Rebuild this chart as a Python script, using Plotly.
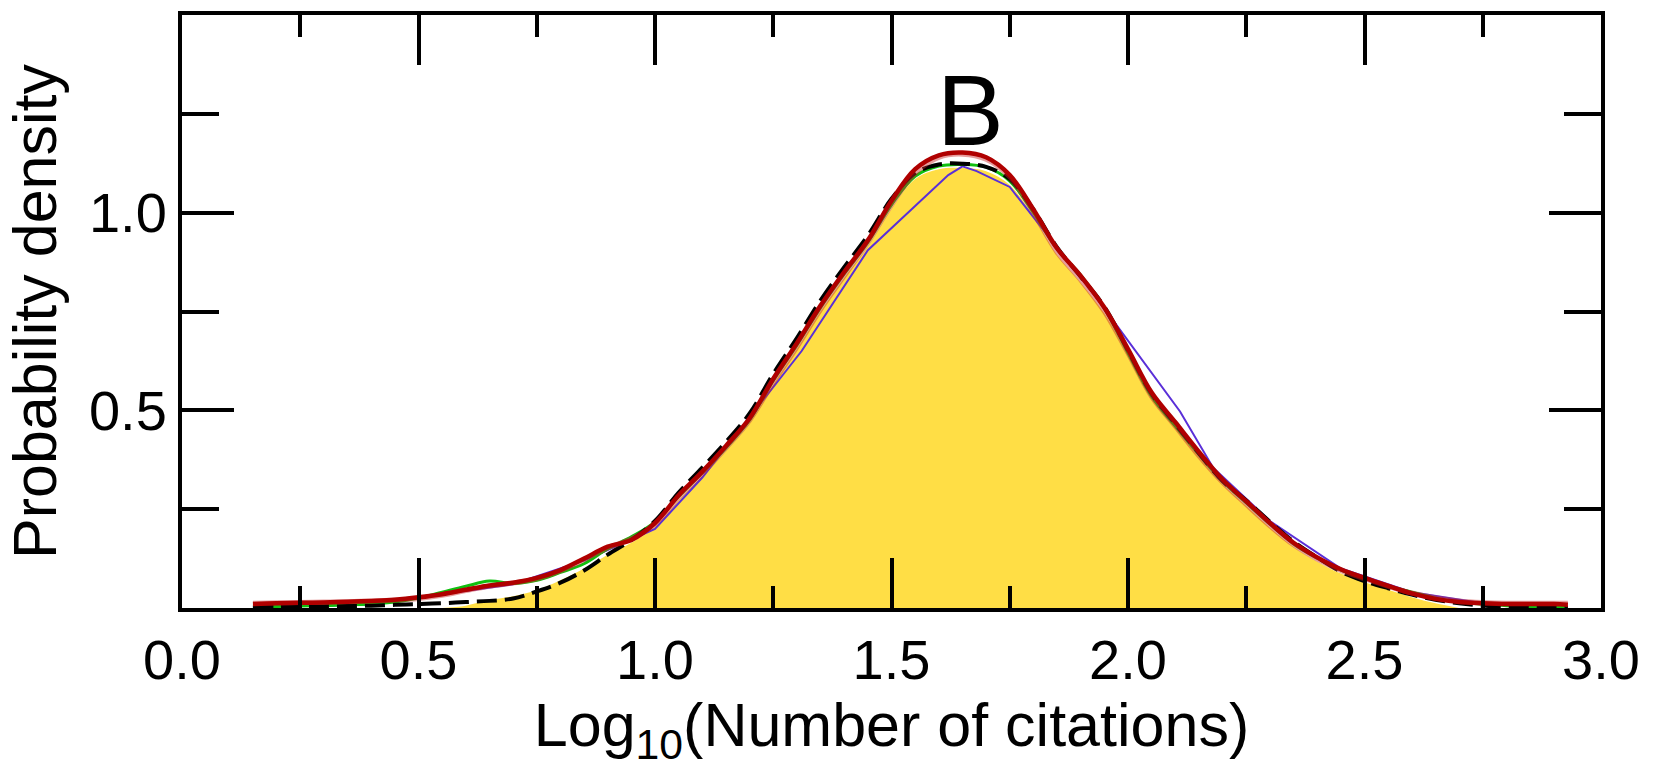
import plotly.graph_objects as go

# Log10 citation grid shared by the smooth density estimates
x_grid = [0.15, 0.20, 0.25, 0.30, 0.35, 0.40, 0.45, 0.50, 0.55,
          0.60, 0.65, 0.70, 0.75, 0.80, 0.85, 0.90, 0.95, 1.00, 1.05,
          1.10, 1.15, 1.20, 1.25, 1.30, 1.35, 1.40, 1.45, 1.50, 1.55,
          1.60, 1.65, 1.70, 1.75, 1.80, 1.85, 1.90, 1.95, 2.00, 2.05,
          2.10, 2.15, 2.20, 2.25, 2.30, 2.35, 2.40, 2.45, 2.50, 2.55,
          2.60, 2.65, 2.70, 2.75, 2.80, 2.85, 2.90, 2.93]

red_density = [0.010, 0.012, 0.013, 0.014, 0.016, 0.018, 0.021, 0.027, 0.035,
               0.046, 0.057, 0.064, 0.076, 0.096, 0.125, 0.155, 0.172, 0.215, 0.285,
               0.345, 0.410, 0.480, 0.580, 0.670, 0.765, 0.850, 0.930, 1.030, 1.110,
               1.145, 1.152, 1.140, 1.095, 1.008, 0.910, 0.840, 0.760, 0.655, 0.545,
               0.470, 0.395, 0.325, 0.270, 0.215, 0.165, 0.128, 0.098, 0.076, 0.056,
               0.037, 0.023, 0.015, 0.012, 0.010, 0.010, 0.010, 0.008]

faded_density = [0.012, 0.013, 0.014, 0.015, 0.016, 0.018, 0.020, 0.024, 0.032,
                 0.044, 0.055, 0.063, 0.074, 0.094, 0.122, 0.152, 0.175, 0.212, 0.280,
                 0.340, 0.405, 0.475, 0.570, 0.660, 0.755, 0.840, 0.925, 1.020, 1.100,
                 1.140, 1.148, 1.135, 1.090, 1.000, 0.900, 0.830, 0.750, 0.645, 0.535,
                 0.460, 0.385, 0.318, 0.262, 0.208, 0.160, 0.124, 0.095, 0.074, 0.055,
                 0.038, 0.026, 0.018, 0.014, 0.012, 0.012, 0.012, 0.012]

black_density = [0.003, 0.003, 0.004, 0.004, 0.005, 0.006, 0.008, 0.010, 0.012,
                 0.015, 0.018, 0.024, 0.042, 0.064, 0.095, 0.135, 0.172, 0.220, 0.292,
                 0.355, 0.420, 0.492, 0.592, 0.683, 0.778, 0.862, 0.942, 1.035, 1.100,
                 1.122, 1.124, 1.116, 1.085, 1.008, 0.912, 0.838, 0.762, 0.652, 0.542,
                 0.466, 0.391, 0.321, 0.272, 0.218, 0.168, 0.128, 0.092, 0.068, 0.050,
                 0.034, 0.021, 0.012, 0.006, 0.003, 0.002, 0.001, 0.001]

green_density = [0.003, 0.004, 0.005, 0.006, 0.008, 0.010, 0.015, 0.025, 0.040,
                 0.055, 0.068, 0.062, 0.070, 0.090, 0.112, 0.150, 0.180, 0.218, 0.282,
                 0.342, 0.405, 0.475, 0.575, 0.665, 0.760, 0.845, 0.925, 1.020, 1.092,
                 1.118, 1.122, 1.115, 1.080, 1.000, 0.908, 0.842, 0.758, 0.645, 0.535,
                 0.460, 0.388, 0.320, 0.266, 0.212, 0.162, 0.126, 0.096, 0.075, 0.055,
                 0.040, 0.025, 0.015, 0.010, 0.006, 0.004, 0.003, 0.002]

# Coarser estimate drawn with straight segments
blue_x = [0.15, 0.40, 0.55, 0.70, 0.85, 1.00, 1.10, 1.31, 1.45, 1.62,
          1.65, 1.68, 1.75, 1.93, 2.11, 2.18, 2.30, 2.45, 2.60, 2.75, 2.92]
blue_density = [0.003, 0.008, 0.035, 0.060, 0.120, 0.200, 0.330, 0.650, 0.905, 1.095,
                1.117, 1.105, 1.065, 0.790, 0.497, 0.355, 0.220, 0.100, 0.040, 0.012, 0.003]

# Shaded reference distribution
fill_x = [0.55, 0.60, 0.65, 0.70, 0.75, 0.80, 0.85, 0.90, 0.95, 1.00,
          1.05, 1.10, 1.15, 1.20, 1.25, 1.30, 1.35, 1.40, 1.45, 1.50,
          1.55, 1.60, 1.65, 1.70, 1.75, 1.80, 1.85, 1.90, 1.95, 2.00,
          2.05, 2.10, 2.15, 2.20, 2.25, 2.30, 2.35, 2.40, 2.45, 2.50,
          2.55, 2.60, 2.65, 2.70]
fill_density = [0.000, 0.006, 0.020, 0.030, 0.045, 0.070, 0.100, 0.135, 0.165, 0.205,
                0.272, 0.333, 0.398, 0.468, 0.565, 0.655, 0.750, 0.835, 0.915, 1.010,
                1.085, 1.110, 1.113, 1.105, 1.070, 0.990, 0.893, 0.823, 0.745, 0.640,
                0.532, 0.457, 0.382, 0.313, 0.258, 0.203, 0.154, 0.117, 0.087, 0.065,
                0.046, 0.027, 0.012, 0.000]

x_ticks = [0.0, 0.5, 1.0, 1.5, 2.0, 2.5, 3.0]
x_tick_text = ["0.0", "0.5", "1.0", "1.5", "2.0", "2.5", "3.0"]
y_ticks = [0.5, 1.0]
y_tick_text = ["0.5", "1.0"]

FONT = "Liberation Sans, Arial, Helvetica, sans-serif"

fig = go.Figure()

fig.add_trace(go.Scatter(x=fill_x, y=fill_density, mode="lines", fill="tozeroy",
                         fillcolor="#FFDE45", line=dict(width=0, color="#FFDE45"),
                         line_shape="spline", hoverinfo="skip"))
fig.add_trace(go.Scatter(x=blue_x, y=blue_density, mode="lines",
                         line=dict(color="#5A2FD8", width=2)))
fig.add_trace(go.Scatter(x=x_grid, y=green_density, mode="lines", line_shape="spline",
                         line=dict(color="#10C010", width=3)))
fig.add_trace(go.Scatter(x=x_grid, y=black_density, mode="lines", line_shape="spline",
                         line=dict(color="black", width=4, dash="20px,8px")))
fig.add_trace(go.Scatter(x=x_grid, y=faded_density, mode="lines", line_shape="spline",
                         line=dict(color="rgba(200,40,40,0.45)", width=5)))
fig.add_trace(go.Scatter(x=x_grid, y=red_density, mode="lines", line_shape="spline",
                         line=dict(color="#B00000", width=4.5)))

fig.add_annotation(x=1.666, y=1.26, text="B", showarrow=False,
                   font=dict(family=FONT, size=100, color="black"),
                   xanchor="center", yanchor="middle")

axis_common = dict(showline=True, linewidth=4, linecolor="black", mirror="allticks",
                   ticks="inside", tickwidth=4, tickcolor="black",
                   showgrid=False, zeroline=False,
                   tickfont=dict(family=FONT, size=56, color="black"))

fig.update_xaxes(range=[0, 3], tickvals=x_ticks, ticktext=x_tick_text, ticklen=50,
                 minor=dict(tickvals=[0.25, 0.75, 1.25, 1.75, 2.25, 2.75],
                            ticklen=22, tickwidth=4, tickcolor="black", ticks="inside"),
                 title=dict(text="Log<sub>10</sub>(Number of citations)",
                            font=dict(family=FONT, size=61, color="black"), standoff=6),
                 **axis_common)
fig.update_yaxes(range=[0, 1.5], tickvals=y_ticks, ticktext=y_tick_text, ticklen=52,
                 minor=dict(tickvals=[0.25, 0.75, 1.25],
                            ticklen=37, tickwidth=4, tickcolor="black", ticks="inside"),
                 title=dict(text="Probability density",
                            font=dict(family=FONT, size=61, color="black"), standoff=14),
                 **axis_common)

fig.update_layout(width=1654, height=768, showlegend=False,
                  margin=dict(l=182, r=53, t=11, b=160),
                  paper_bgcolor="white", plot_bgcolor="white")

fig.write_html("out.html")
